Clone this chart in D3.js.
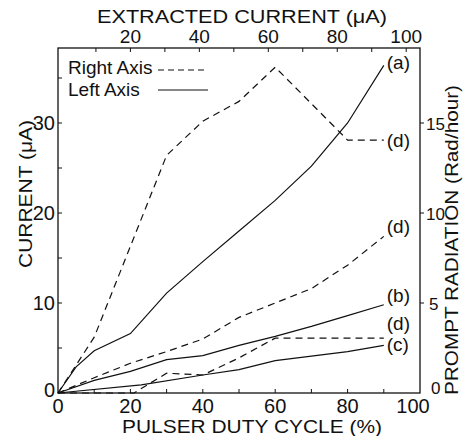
<!DOCTYPE html>
<html>
<head>
<meta charset="utf-8">
<script src="https://cdn.jsdelivr.net/npm/d3@7"></script>
<style>
  body { margin: 0; background: #fff; }
  text { font-family: "Liberation Sans", Arial, sans-serif; fill: #111; }
</style>
</head>
<body>
<div id="chart"></div>
<script>
// duty cycle (%) vs current (left axis, uA) and prompt radiation (right axis, Rad/hour)
var curveA = [[0,0],[5,2.9],[10,4.7],[20,6.6],[30,11.1],[40,14.6],[50,18.0],[60,21.4],[70,25.2],[80,30.0],[90,36.4]];
var curveB = [[0,0],[10,1.4],[20,2.4],[30,3.7],[40,4.15],[50,5.3],[60,6.3],[70,7.4],[80,8.6],[90,9.8]];
var curveC = [[0,0],[23,0.9],[40,2.0],[50,2.6],[60,3.6],[70,4.1],[80,4.6],[90,5.3]];
var radUpper = [[0,0],[10,3.1],[30,13.2],[40,15.1],[50,16.2],[60,18.1],[80,14.05],[90,14.05]];
var radMiddle = [[0,0],[10,0.85],[20,1.65],[30,2.3],[40,3.0],[50,4.2],[60,5.0],[70,5.8],[80,7.1],[90,8.7]];
var radLower = [[0,0],[21,0],[30,1.1],[40,1.0],[50,1.95],[60,3.05],[90,3.05]];

var bottomTicks = [0, 20, 40, 60, 80, 100];
var topTicks = [20, 40, 60, 80, 100];
var leftTicks = [0, 10, 20, 30];
var rightTicks = [0, 5, 10, 15];

var margin = {top: 48, right: 43, bottom: 43, left: 58};
var width = 463 - margin.left - margin.right;
var height = 436 - margin.top - margin.bottom;

var svg = d3.select("#chart").append("svg")
    .attr("width", 463)
    .attr("height", 436)
  .append("g")
    .attr("transform", "translate(" + margin.left + "," + margin.top + ")");

var x = d3.scaleLinear().domain([0, 100]).range([0, width]);
var xTop = d3.scaleLinear().domain([-1, 104]).range([0, width]);
var yLeft = d3.scaleLinear().domain([0, height / 9]).range([height, 0]);
var yRight = d3.scaleLinear().domain([0, height / 18]).range([height, 0]);

// frame
svg.append("rect")
    .attr("width", width).attr("height", height)
    .attr("fill", "none").attr("stroke", "#111").attr("stroke-width", 1.3);

// inward ticks
var tickG = svg.append("g").attr("stroke", "#111").attr("stroke-width", 1);
d3.range(10, 100, 10).forEach(function(v) {
  tickG.append("line").attr("x1", x(v)).attr("x2", x(v)).attr("y1", height).attr("y2", height - 4);
});
d3.range(10, 104, 10).forEach(function(v) {
  tickG.append("line").attr("x1", xTop(v)).attr("x2", xTop(v)).attr("y1", 0).attr("y2", 4);
});
d3.range(5, 38, 5).forEach(function(v) {
  tickG.append("line").attr("x1", 0).attr("x2", 4).attr("y1", yLeft(v)).attr("y2", yLeft(v));
});
d3.range(5, 19, 5).forEach(function(v) {
  tickG.append("line").attr("x1", width).attr("x2", width + 4).attr("y1", yRight(v)).attr("y2", yRight(v));
});

// tick labels
svg.selectAll(".bl").data(bottomTicks).enter().append("text")
    .attr("x", function(d) { return x(d) + (d === 100 ? -7 : 0); })
    .attr("y", height + 20)
    .attr("text-anchor", "middle").attr("font-size", 20)
    .text(function(d) { return d; });

svg.selectAll(".tl").data(topTicks).enter().append("text")
    .attr("x", function(d) { return xTop(d); })
    .attr("y", -5)
    .attr("text-anchor", "middle").attr("font-size", 19)
    .text(function(d) { return d; });

svg.selectAll(".ll").data(leftTicks).enter().append("text")
    .attr("x", -3)
    .attr("y", function(d) { return yLeft(d) + (d === 0 ? 4 : 7); })
    .attr("text-anchor", "end").attr("font-size", 20)
    .text(function(d) { return d; });

svg.selectAll(".rl").data(rightTicks).enter().append("text")
    .attr("x", function(d) { return width + (d === 5 ? 9 : d === 0 ? 11 : 6); })
    .attr("y", function(d) { return yRight(d) + (d === 0 ? 1 : 7); })
    .attr("text-anchor", "start").attr("font-size", 17)
    .text(function(d) { return d; });

// axis titles
svg.append("text")
    .attr("x", 64).attr("y", height + 40)
    .attr("font-size", 19).attr("textLength", 260).attr("lengthAdjust", "spacingAndGlyphs")
    .text("PULSER  DUTY CYCLE (%)");

svg.append("text")
    .attr("x", 39).attr("y", -25)
    .attr("font-size", 18).attr("textLength", 290).attr("lengthAdjust", "spacingAndGlyphs")
    .text("EXTRACTED  CURRENT (\u03bcA)");

svg.append("text")
    .attr("transform", "translate(" + (-26) + "," + 220 + ") rotate(-90)")
    .attr("font-size", 19).attr("textLength", 148).attr("lengthAdjust", "spacingAndGlyphs")
    .text("CURRENT (\u03bcA)");

svg.append("text")
    .attr("transform", "translate(" + (width + 38) + "," + 347 + ") rotate(-90)")
    .attr("font-size", 18).attr("textLength", 310).attr("lengthAdjust", "spacingAndGlyphs")
    .text("PROMPT RADIATION  (Rad/hour)");

// curves
var lineL = d3.line().x(function(d) { return x(d[0]); }).y(function(d) { return yLeft(d[1]); });
var lineR = d3.line().x(function(d) { return x(d[0]); }).y(function(d) { return yRight(d[1]); });

var series = [
  {data: curveA, line: lineL, dashed: false, label: "(a)", dy: -3},
  {data: curveB, line: lineL, dashed: false, label: "(b)", dy: -10},
  {data: curveC, line: lineL, dashed: false, label: "(c)", dy: -1},
  {data: radUpper, line: lineR, dashed: true, label: "(d)", dy: 0},
  {data: radMiddle, line: lineR, dashed: true, label: "(d)", dy: -10},
  {data: radLower, line: lineR, dashed: true, label: "(d)", dy: -15}
];

series.forEach(function(s) {
  svg.append("path")
      .datum(s.data)
      .attr("d", s.line)
      .attr("fill", "none")
      .attr("stroke", "#111")
      .attr("stroke-width", 1.2)
      .attr("stroke-dasharray", s.dashed ? "7,5" : null);

  var last = s.data[s.data.length - 1];
  var yEnd = s.line === lineL ? yLeft(last[1]) : yRight(last[1]);
  svg.append("text")
      .attr("x", x(last[0]) + 3)
      .attr("y", yEnd + s.dy + 7)
      .attr("font-size", 19)
      .text(s.label);
});

// legend
var legend = svg.append("g").attr("transform", "translate(10,0)");
legend.append("text").attr("x", 0).attr("y", 26).attr("font-size", 19).text("Right Axis");
legend.append("line").attr("x1", 90).attr("x2", 140).attr("y1", 22).attr("y2", 22)
    .attr("stroke", "#111").attr("stroke-width", 1.2).attr("stroke-dasharray", "6,4");
legend.append("text").attr("x", 0).attr("y", 48).attr("font-size", 19).text("Left Axis");
legend.append("line").attr("x1", 90).attr("x2", 140).attr("y1", 42).attr("y2", 42)
    .attr("stroke", "#111").attr("stroke-width", 1.2);
</script>
</body>
</html>
